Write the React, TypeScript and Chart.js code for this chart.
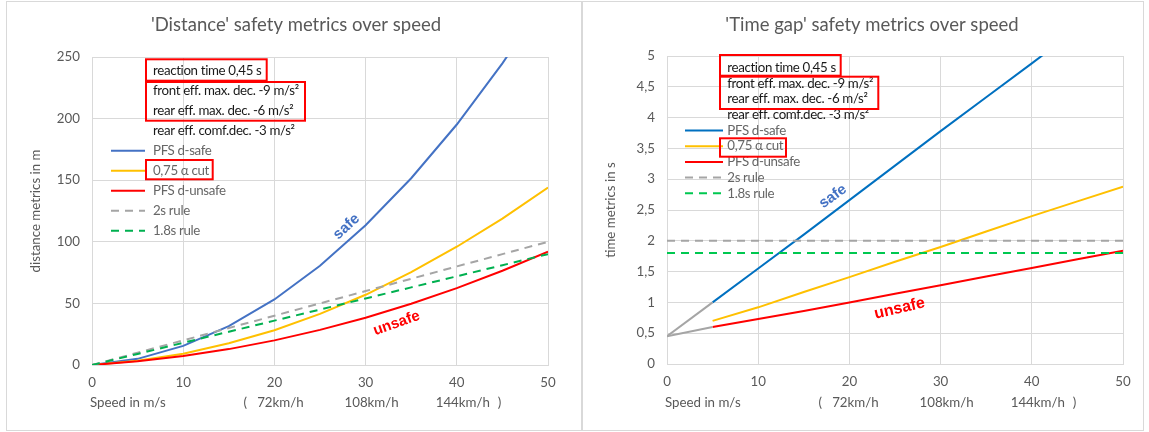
import React, { useEffect, useRef } from 'react';
import { Chart, registerables } from 'chart.js';

Chart.register(...registerables);

const FONT = 'Lato, "Open Sans", sans-serif';
const NOTE_FONT = '"Liberation Sans", Arial, sans-serif';

// Speed samples in m/s
const speeds = [0, 5, 10, 15, 20, 25, 30, 35, 40, 45, 50];

// Distance metrics in m
const distSafe = [0, 5, 15.5, 31.5, 53.2, 80.5, 113.4, 151.6, 195.2, 244.8, 300];
const distAlphaCut = [0, 3.5, 9.2, 17.6, 28.2, 41.5, 57, 75.3, 96, 118.8, 144];
const distUnsafe = [0, 3, 7.3, 12.9, 20, 28.5, 38.4, 49.7, 62.4, 76.5, 92];
const dist2sRule = [0, 10, 20, 30, 40, 50, 60, 70, 80, 90, 100];
const dist18sRule = [0, 9, 18, 27, 36, 45, 54, 63, 72, 81, 90];

// Time gap metrics in s (PFS curves start at 5 m/s)
const timeSafe = [null, 1.0, 1.55, 2.1, 2.66, 3.22, 3.78, 4.33, 4.88, 5.44, 6.0];
const timeAlphaCut = [null, 0.7, 0.92, 1.17, 1.41, 1.66, 1.9, 2.15, 2.4, 2.64, 2.88];
const timeUnsafe = [null, 0.6, 0.73, 0.86, 1.0, 1.14, 1.28, 1.42, 1.56, 1.7, 1.84];
const reactionSpeeds = [0, 5];
const reactionToSafe = [0.45, 1.0];
const reactionToUnsafe = [0.45, 0.6];
const ruleSpeeds = [0, 50];
const time2sRule = [2, 2];
const time18sRule = [1.8, 1.8];

// Tick labels
const speedTickLabels = ['0', '10', '20', '30', '40', '50'];
const distTickLabels = ['0', '50', '100', '150', '200', '250'];
const timeTickLabels = ['0', '0,5', '1', '1,5', '2', '2,5', '3', '3,5', '4', '4,5', '5'];

// Parameter notes and legend labels
const paramLines = [
  'reaction time 0,45 s',
  'front eff. max. dec. -9 m/s²',
  'rear eff. max. dec. -6 m/s²',
  'rear eff. comf.dec. -3 m/s²',
];
const legendLabels = ['PFS d-safe', '0,75 α cut', 'PFS d-unsafe', '2s rule', '1.8s rule'];
const kmhSpeeds = [20, 30, 40];
const kmhLabels = ['72km/h', '108km/h', '144km/h'];

type Pt = { x: number; y: number };
const toPoints = (xs: number[], ys: (number | null)[]): Pt[] =>
  xs
    .map((x, i) => ({ x, y: ys[i] as number }))
    .filter((p) => p.y !== null && p.y !== undefined);

const series = (
  label: string | null,
  data: Pt[],
  color: string,
  order: number,
  dash: number[] = []
) => ({
  label: label ?? '',
  data,
  borderColor: color,
  backgroundColor: color,
  borderWidth: 2,
  borderDash: dash,
  pointRadius: 0,
  tension: 0,
  fill: false,
  order,
  inLegend: label !== null,
});

const overlayPlugin = {
  id: 'overlay',
  afterDraw(chart: any, _args: any, opts: any) {
    const ctx: any = chart.ctx;
    const xs = chart.scales.x;
    const ys = chart.scales.y;
    ctx.save();

    // chart title
    ctx.font = `18.5px ${FONT}`;
    ctx.fillStyle = '#595959';
    ctx.textAlign = 'center';
    ctx.textBaseline = 'middle';
    ctx.fillText(opts.title, opts.titleX, opts.titleY);

    // parameter lines
    ctx.textAlign = 'left';
    ctx.font = `13.3px ${FONT}`;
    ctx.letterSpacing = '-0.35px';
    ctx.fillStyle = '#1a1a1a';
    paramLines.forEach((t, i) => ctx.fillText(t, opts.textX, opts.rowY0 + i * opts.rowStep));

    // legend entries
    const entries = chart.data.datasets.filter((d: any) => d.inLegend);
    entries.forEach((d: any, i: number) => {
      const y = opts.rowY0 + (i + paramLines.length) * opts.rowStep;
      ctx.save();
      ctx.strokeStyle = d.borderColor;
      ctx.lineWidth = 2;
      ctx.setLineDash(d.borderDash || []);
      ctx.beginPath();
      ctx.moveTo(opts.sampleX0, y);
      ctx.lineTo(opts.sampleX1, y);
      ctx.stroke();
      ctx.restore();
      ctx.fillStyle = '#666666';
      ctx.fillText(legendLabels[i], opts.textX, y);
    });
    ctx.letterSpacing = '0px';

    // highlight boxes
    ctx.strokeStyle = '#FF0000';
    ctx.lineWidth = 2;
    opts.boxes.forEach((b: any) => ctx.strokeRect(b.x, b.y, b.w, b.h));

    // curve annotations
    opts.notes.forEach((n: any) => {
      ctx.save();
      ctx.translate(xs.getPixelForValue(n.x), ys.getPixelForValue(n.y));
      ctx.rotate((n.angle * Math.PI) / 180);
      ctx.font = `bold ${n.size}px ${NOTE_FONT}`;
      ctx.fillStyle = n.color;
      ctx.textAlign = 'center';
      ctx.textBaseline = 'middle';
      ctx.fillText(n.text, 0, 0);
      ctx.restore();
    });

    // speed caption with km/h equivalents
    ctx.font = `13.3px ${FONT}`;
    ctx.fillStyle = '#595959';
    ctx.textAlign = 'left';
    ctx.fillText('Speed in m/s', xs.left - 2, opts.captionY);
    ctx.fillText('(', xs.getPixelForValue(kmhSpeeds[0]) - 31, opts.captionY);
    ctx.textAlign = 'center';
    kmhSpeeds.forEach((v, i) => ctx.fillText(kmhLabels[i], xs.getPixelForValue(v) + 6, opts.captionY));
    ctx.textAlign = 'left';
    ctx.fillText(')', xs.getPixelForValue(kmhSpeeds[kmhSpeeds.length - 1]) + 41, opts.captionY);

    ctx.restore();
  },
};

const tickFont = { family: FONT, size: 13.3 };

function makeConfig(p: {
  datasets: any[];
  yMax: number;
  yStep: number;
  yLabels: string[];
  yTitle: string;
  pad: { top: number; right: number };
  xHeight: number;
  overlay: any;
}) {
  return {
    type: 'line' as const,
    data: { datasets: p.datasets },
    plugins: [overlayPlugin],
    options: {
      responsive: false,
      animation: false as const,
      devicePixelRatio: 1,
      layout: { padding: { left: 0, right: p.pad.right, top: p.pad.top, bottom: 0 } },
      plugins: {
        legend: { display: false },
        tooltip: { enabled: false },
        title: { display: false },
        overlay: p.overlay,
      },
      scales: {
        x: {
          type: 'linear' as const,
          min: 0,
          max: 50,
          ticks: {
            stepSize: 10,
            color: '#595959',
            font: tickFont,
            padding: 10,
            callback: (_v: any, i: number) => speedTickLabels[i],
          },
          grid: { color: '#d9d9d9', drawTicks: false, lineWidth: 1 },
          border: { color: '#d9d9d9' },
          afterFit: (s: any) => {
            s.height = p.xHeight;
          },
        },
        y: {
          type: 'linear' as const,
          min: 0,
          max: p.yMax,
          ticks: {
            stepSize: p.yStep,
            color: '#595959',
            font: tickFont,
            padding: 12,
            callback: (_v: any, i: number) => p.yLabels[i],
          },
          grid: { color: '#d9d9d9', drawTicks: false, lineWidth: 1 },
          border: { color: '#d9d9d9' },
          title: {
            display: true,
            text: p.yTitle,
            color: '#595959',
            font: { family: FONT, size: 13.3 },
            padding: { top: 21, bottom: 0 },
          },
          afterFit: (s: any) => {
            s.width = 85;
          },
        },
      },
    },
  };
}

function distanceConfig() {
  return makeConfig({
    datasets: [
      series('PFS d-safe', toPoints(speeds, distSafe), '#4472C4', 5),
      series('0,75 α cut', toPoints(speeds, distAlphaCut), '#FFC000', 4),
      series('PFS d-unsafe', toPoints(speeds, distUnsafe), '#FF0000', 3),
      series('2s rule', toPoints(speeds, dist2sRule), '#A5A5A5', 2, [8, 6]),
      series('1.8s rule', toPoints(speeds, dist18sRule), '#00B050', 1, [8, 6]),
    ],
    yMax: 250,
    yStep: 50,
    yLabels: distTickLabels,
    yTitle: 'distance metrics in m',
    pad: { top: 55, right: 33 },
    xHeight: 64,
    overlay: {
      title: "'Distance' safety metrics over speed",
      titleX: 289,
      titleY: 23,
      textX: 146,
      sampleX0: 104,
      sampleX1: 138,
      rowY0: 68.7,
      rowStep: 20,
      boxes: [
        { x: 139, y: 57.3, w: 120.7, h: 21.4 },
        { x: 139, y: 80, w: 159, h: 38.7 },
        { x: 139, y: 158, w: 66.7, h: 19.3 },
      ],
      notes: [
        { text: 'safe', x: 27.9, y: 112.3, angle: -43, color: '#4472C4', size: 15 },
        { text: 'unsafe', x: 33.4, y: 33.8, angle: -19.6, color: '#FF0000', size: 15 },
      ],
      captionY: 400.7,
    },
  });
}

function timeGapConfig() {
  return makeConfig({
    datasets: [
      series('PFS d-safe', toPoints(speeds, timeSafe), '#0070C0', 7),
      series('0,75 α cut', toPoints(speeds, timeAlphaCut), '#FFC000', 6),
      series('PFS d-unsafe', toPoints(speeds, timeUnsafe), '#FF0000', 5),
      series('2s rule', toPoints(ruleSpeeds, time2sRule), '#A5A5A5', 4, [8, 6]),
      series('1.8s rule', toPoints(ruleSpeeds, time18sRule), '#00C850', 3, [8, 6]),
      series(null, toPoints(reactionSpeeds, reactionToSafe), '#A5A5A5', 2),
      series(null, toPoints(reactionSpeeds, reactionToUnsafe), '#A5A5A5', 1),
    ],
    yMax: 5,
    yStep: 0.5,
    yLabels: timeTickLabels,
    yTitle: 'time metrics in s',
    pad: { top: 54, right: 20 },
    xHeight: 65,
    overlay: {
      title: "'Time gap' safety metrics over speed",
      titleX: 290,
      titleY: 23,
      textX: 145.3,
      sampleX0: 103,
      sampleX1: 141,
      rowY0: 65.7,
      rowStep: 15.7,
      boxes: [
        { x: 138, y: 53, w: 120.7, h: 20.7 },
        { x: 138, y: 74.7, w: 158.3, h: 32.3 },
        { x: 138, y: 136.3, w: 66, h: 18.4 },
      ],
      notes: [
        { text: 'safe', x: 18.2, y: 2.72, angle: -36, color: '#4472C4', size: 15 },
        { text: 'unsafe', x: 25.5, y: 0.9, angle: -13, color: '#FF0000', size: 16 },
      ],
      captionY: 400.7,
    },
  });
}

function ChartCanvas(props: { make: () => any; left: number; top: number; width: number; height: number }) {
  const ref = useRef<HTMLCanvasElement | null>(null);
  useEffect(() => {
    if (!ref.current) return;
    const chart = new Chart(ref.current, props.make());
    return () => chart.destroy();
  }, []);
  return (
    <canvas
      ref={ref}
      width={props.width}
      height={props.height}
      style={{
        position: 'absolute',
        left: props.left,
        top: props.top,
        width: props.width,
        height: props.height,
        display: 'block',
      }}
    />
  );
}

export default function App() {
  return (
    <div
      style={{
        position: 'fixed',
        left: 0,
        top: 0,
        width: 1149,
        height: 432,
        background: '#ffffff',
        overflow: 'hidden',
      }}
    >
      <div
        style={{
          position: 'absolute',
          left: 6,
          top: 1,
          width: 577,
          height: 430,
          boxSizing: 'border-box',
          border: '1px solid #d9d9d9',
        }}
      />
      <div
        style={{
          position: 'absolute',
          left: 581,
          top: 1,
          width: 563,
          height: 430,
          boxSizing: 'border-box',
          border: '1px solid #d9d9d9',
        }}
      />
      <ChartCanvas make={distanceConfig} left={7} top={2} width={574} height={427} />
      <ChartCanvas make={timeGapConfig} left={582} top={2} width={561} height={427} />
    </div>
  );
}
